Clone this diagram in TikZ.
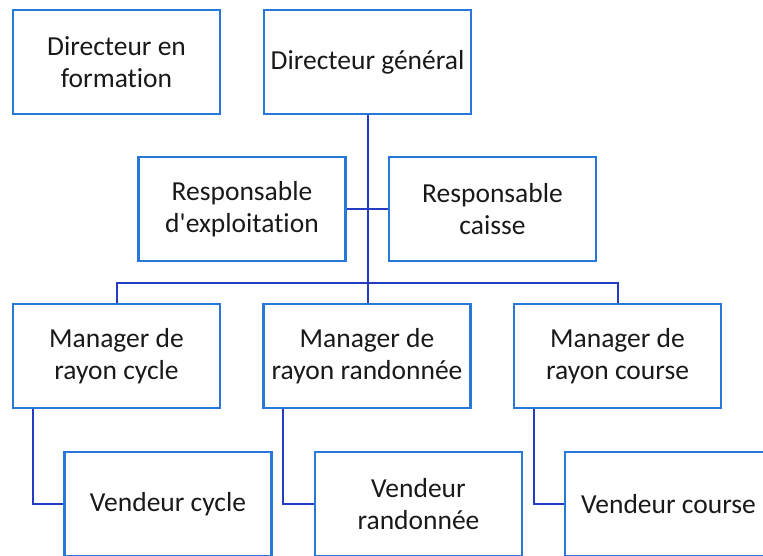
\documentclass[tikz,border=0pt]{standalone}
\usepackage{fontspec}
\setmainfont{Carlito}[Ligatures={NoCommon}]
\usetikzlibrary{positioning}
\definecolor{boxblue}{RGB}{40,120,220}
\definecolor{linkblue}{RGB}{35,60,195}

\begin{document}
\begin{tikzpicture}[
  x=1pt, y=-1pt,
  every node/.style = {shape=rectangle, draw=boxblue, line width=2.6pt,
    align=center, inner sep=1pt, minimum width=207pt, minimum height=104pt,
    font=\fontsize{27.5}{32}\selectfont, text=black!90},
  link/.style = {draw=linkblue, line width=2pt}]
  \useasboundingbox (0,0) rectangle (763,555);
  % top row
  \node (form)   at (116.5,62)  {Directeur en\\formation};
  \node (dg)     at (367.5,62)  {Directeur g\'en\'eral};
  % staff
  \node (expl)   at (242,209)   {Responsable\\d\textquotesingle exploitation};
  \node (caisse) at (492.5,209) {Responsable\\caisse};
  % managers
  \node (mcycle)  at (116.5,356) {Manager de\\rayon cycle};
  \node (mrando)  at (367,356)   {Manager de\\rayon randonn\'ee};
  \node (mcourse) at (617.5,356) {Manager de\\rayon course};
  % vendeurs
  \node (vcycle)  at (168,504)   {Vendeur cycle};
  \node (vrando)  at (418.5,504) {Vendeur\\randonn\'ee};
  \node (vcourse) at (668.5,504) {Vendeur course};

  \coordinate (bus) at (367.5,283);
  \draw[link] (dg.south) -- (bus);
  \draw[link] (expl.east) -- (caisse.west);
  \draw[link] (mcycle.north) |- (bus) -| (mcourse.north);
  \draw[link] (bus) -- (bus |- mrando.north);
  \draw[link] ([xshift=21pt]mcycle.south west) |- (vcycle.west);
  \draw[link] ([xshift=21pt]mrando.south west) |- (vrando.west);
  \draw[link] ([xshift=21pt]mcourse.south west) |- (vcourse.west);
\end{tikzpicture}
\end{document}
